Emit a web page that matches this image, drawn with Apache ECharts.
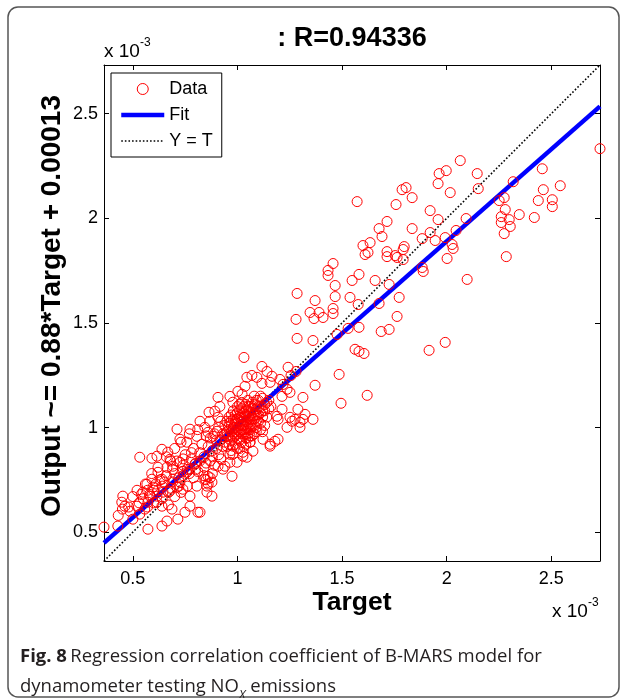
<!DOCTYPE html>
<html>
<head>
<meta charset="utf-8">
<script src="https://cdn.jsdelivr.net/npm/echarts@6/dist/echarts.min.js"></script>
<style>html,body{margin:0;padding:0;background:#fff;}#chart{width:626px;height:698px;}</style>
</head>
<body>
<div id="chart"></div>
<script>
// All values in units of 1e-3
var axisMin = 0.362;
var axisMax = 2.733;
var tickValues = [0.5, 1, 1.5, 2, 2.5];
var tickLabels = ['0.5', '1', '1.5', '2', '2.5'];
var fitSlope = 0.88;
var fitIntercept = 0.13;
var titleText = ': R=0.94336';
var yLabelText = 'Output ~= 0.88*Target + 0.00013';
var xLabelText = 'Target';
var legendNames = ['Data', 'Fit', 'Y = T'];

// [target, output] pairs
var upperPoints = [[2.065,2.276],[1.998,2.228],[1.964,2.214],[1.959,2.166],[2.017,2.123],[2.146,2.214],[2.151,2.142],[1.572,2.080],[1.787,2.137],[1.806,2.147],[1.835,2.099],[1.758,2.066],[1.921,2.037],[1.959,1.994],[2.093,1.999],[1.715,1.985],[1.677,1.951],[1.691,1.913],[1.835,1.951],[1.921,1.932],[1.883,1.903],[1.945,1.894],[1.993,1.908],[2.045,1.942],[1.634,1.884],[1.600,1.870],[1.624,1.837],[1.610,1.827],[1.715,1.841],[1.715,1.817],[1.797,1.865],[1.792,1.851],[1.754,1.822],[1.792,1.803],[1.763,1.813],[2.026,1.875],[2.031,1.856],[2.002,1.808],[1.883,1.765],[1.888,1.746],[1.457,1.784],[1.433,1.751],[1.433,1.727],[1.581,1.732],[1.658,1.703],[1.548,1.703],[2.098,1.708]];
var rightPoints = [[2.733,2.333],[2.457,2.237],[2.543,2.156],[2.462,2.137],[2.438,2.085],[2.505,2.089],[2.505,2.056],[2.419,2.004],[2.318,2.175],[2.275,2.099],[2.251,2.085],[2.280,2.042],[2.347,2.018],[2.261,2.008],[2.299,1.994],[2.261,1.980],[2.304,1.961],[2.275,1.927],[2.285,1.817]];
var midUpperPoints = [[1.467,1.679],[1.725,1.684],[1.285,1.641],[1.371,1.607],[1.467,1.626],[1.538,1.622],[1.577,1.588],[1.677,1.593],[1.773,1.622],[1.347,1.550],[1.390,1.550],[1.366,1.521],[1.409,1.526],[1.457,1.569],[1.457,1.545],[1.280,1.517],[1.763,1.531],[1.529,1.474],[1.581,1.479],[1.687,1.459],[1.725,1.469],[1.476,1.445],[1.285,1.426],[1.361,1.416],[1.562,1.374],[1.581,1.364],[1.605,1.354],[1.916,1.369],[1.993,1.407],[1.486,1.254],[1.371,1.202],[1.313,1.144],[1.620,1.154],[1.495,1.116]];
var midPoints = [[1.031,1.335],[1.117,1.292],[1.141,1.268],[1.242,1.288],[1.280,1.268],[1.256,1.249],[1.045,1.240],[1.069,1.249],[1.093,1.240],[1.117,1.211],[1.156,1.216],[1.165,1.245],[1.203,1.230],[1.218,1.206],[1.237,1.183],[1.251,1.168],[1.213,1.149],[1.289,1.087],[1.251,1.049],[1.275,1.039],[1.299,1.025],[1.323,1.063],[1.213,1.087],[1.189,1.054],[0.907,1.144],[0.916,1.101],[0.892,1.078],[0.864,1.073],[0.868,1.030],[1.002,1.173],[1.036,1.197],[1.022,1.159],[0.964,1.149],[0.978,1.121],[1.060,0.930],[1.122,0.944],[1.156,0.911],[1.179,0.934],[1.237,1.001],[1.261,1.030],[1.299,1.001],[1.313,1.039],[1.194,0.944],[1.026,0.882],[1.045,0.858],[0.978,0.872],[0.998,0.834],[0.974,0.767],[0.931,0.801],[0.907,0.815],[0.859,0.767],[0.844,0.753],[0.878,0.739],[0.854,0.720],[0.797,0.825],[0.773,0.801],[0.758,0.786],[0.859,0.977],[0.883,0.958],[0.902,0.982],[0.907,1.049],[0.821,1.030],[0.844,1.001],[0.773,0.992],[0.806,0.958],[0.711,0.992],[0.725,0.944],[0.758,0.930],[0.667,0.882],[0.639,0.896],[0.615,0.863],[0.591,0.853],[0.533,0.858],[0.677,0.848],[0.691,0.815],[0.663,0.810],[0.725,0.834],[0.739,0.791],[0.620,0.786],[0.639,0.753],[0.591,0.753],[0.567,0.729],[0.596,0.715],[0.548,0.691],[0.581,0.672],[0.615,0.672],[0.644,0.691],[0.677,0.696],[0.711,0.715],[0.691,0.753],[0.725,0.739],[0.739,0.705],[0.773,0.672],[0.806,0.720],[0.773,0.624],[0.811,0.595],[0.749,0.595],[0.687,0.610],[0.715,0.562],[0.663,0.553],[0.639,0.529],[0.572,0.514],[0.519,0.624],[0.486,0.600],[0.452,0.672],[0.447,0.643],[0.462,0.624],[0.500,0.562],[0.533,0.586],[0.557,0.610],[0.362,0.524],[0.428,0.529],[0.572,0.643],[0.615,0.643],[0.639,0.624],[0.854,0.691],[0.878,0.672],[0.964,0.872],[0.978,0.911],[1.156,0.920],[1.361,1.039],[1.194,1.039],[0.821,0.595],[1.026,0.863],[1.074,0.887],[0.940,0.815],[0.964,0.834],[0.84,0.77],[0.87,0.76],[0.86,0.73],[0.85,0.75],[0.88,0.78]];
var clusterPoints = [[0.94,0.93],[0.95,0.96],[0.96,0.99],[0.97,0.94],[0.97,1.01],[0.98,0.97],[0.98,1.04],[0.99,0.92],[0.99,1.00],[1.00,0.95],[1.00,1.02],[1.00,1.07],[1.01,0.98],[1.01,1.05],[1.02,0.93],[1.02,1.01],[1.02,1.09],[1.03,0.97],[1.03,1.03],[1.04,1.00],[1.04,1.06],[1.04,1.11],[1.05,0.95],[1.05,1.02],[1.05,1.08],[1.06,0.99],[1.06,1.04],[1.07,1.01],[1.07,1.07],[1.07,1.12],[1.08,0.97],[1.08,1.04],[1.09,1.09],[1.09,1.00],[1.10,1.06],[1.10,1.13],[1.11,1.02],[1.12,1.08],[1.12,0.98],[1.13,1.11],[1.14,1.05],[0.93,0.97],[0.94,1.01],[0.95,0.91],[0.96,1.05],[0.97,0.89],[0.98,1.08],[0.99,0.96],[1.00,0.99],[1.01,0.90],[1.01,1.11],[1.02,0.97],[1.03,1.07],[1.03,0.91],[1.04,0.95],[1.05,1.13],[1.06,0.93],[1.06,1.10],[1.08,1.15],[1.09,1.03],[1.11,1.15],[1.13,1.01],[0.92,0.94],[0.91,1.00],[0.95,1.03],[0.99,1.03],[1.00,0.90],[1.02,1.05],[1.04,1.03],[1.06,1.01],[1.08,1.01],[1.10,1.10],[1.15,1.09],[1.12,1.14],[0.97,0.98],[1.03,0.99],[1.05,1.05],[1.07,0.96],[1.11,1.07],[0.96,0.92],[1.09,1.13],[1.14,1.12],[1.16,1.10],[1.01,1.01],[0.98,1.00],
  [0.95,0.98],[0.96,1.02],[0.97,1.06],[0.98,0.95],[0.99,1.06],[1.00,1.04],[1.00,0.97],[1.01,1.08],[1.01,0.94],[1.02,1.03],[1.02,0.99],[1.03,1.05],[1.03,1.10],[1.04,0.98],[1.04,1.08],[1.05,1.00],[1.05,1.10],[1.06,1.06],[1.06,0.96],[1.07,1.04],[1.07,1.09],[1.08,1.06],[1.08,1.11],[1.09,1.06],[1.10,1.03],[1.11,1.10],[1.12,1.05],[1.13,1.08],[1.03,1.01],[0.99,0.98],[0.96,0.96],[0.94,0.97],[1.04,0.92],[1.09,0.98],[1.15,1.13],[1.02,1.12],[0.97,1.03],[1.05,0.97],[1.11,0.99],[1.00,1.10]];
var lowerPoints = [[0.62,0.70],[0.65,0.74],[0.68,0.71],[0.70,0.78],[0.72,0.76],[0.74,0.82],[0.76,0.80],[0.78,0.85],[0.80,0.83],[0.82,0.88],[0.84,0.86],[0.86,0.91],[0.88,0.89],[0.90,0.94],[0.91,0.87],[0.87,0.95],[0.83,0.92],[0.79,0.90],[0.75,0.87],[0.71,0.84],[0.69,0.80],[0.66,0.77],[0.63,0.75],[0.60,0.70],[0.58,0.68],[0.55,0.66],[0.53,0.64],[0.57,0.62],[0.60,0.64],[0.64,0.66],[0.67,0.63],[0.70,0.67],[0.73,0.69],[0.76,0.72],[0.79,0.76],[0.81,0.79],[0.84,0.81],[0.87,0.84],[0.89,0.82],[0.92,0.85],[0.85,0.96],[0.81,0.99],[0.77,0.97],[0.73,0.93],[0.70,0.90],[0.66,0.86],[0.62,0.81],[0.59,0.78],[0.56,0.73],[0.52,0.70],[0.50,0.67],[0.48,0.62],[0.45,0.61],[0.43,0.58],
  [0.64,0.72],[0.67,0.69],[0.69,0.74],[0.72,0.72],[0.74,0.77],[0.77,0.78],[0.80,0.80],[0.82,0.84],[0.85,0.83],[0.88,0.86],[0.90,0.90],[0.93,0.91],[0.78,0.88],[0.74,0.85],[0.68,0.84],[0.61,0.73],[0.57,0.70],[0.54,0.68],[0.89,0.97],[0.92,1.03]];

var allPoints = [].concat(upperPoints, rightPoints, midUpperPoints, midPoints, clusterPoints, lowerPoints);
var fitLine = [[axisMin, fitSlope * axisMin + fitIntercept], [axisMax, fitSlope * axisMax + fitIntercept]];
var identityLine = [[axisMin, axisMin], [axisMax, axisMax]];

var FONT = '"Liberation Sans", Arial, Helvetica, sans-serif';
var CAPFONT = '"Open Sans", sans-serif';
var chart = echarts.init(document.getElementById('chart'), null, {renderer: 'canvas'});

function tickFormatter(v) { var i = tickValues.indexOf(v); return i >= 0 ? tickLabels[i] : ''; }

function makeAxis(position, showLabel, margin) {
  return {
    type: 'value', min: axisMin, max: axisMax, position: position,
    splitLine: {show: false},
    axisLine: {show: true, onZero: false, lineStyle: {color: '#000', width: 1}},
    axisTick: {show: true, inside: true, length: 5, customValues: tickValues, lineStyle: {color: '#000', width: 1}},
    axisLabel: {show: showLabel, customValues: tickValues, color: '#000', fontSize: 18, fontFamily: FONT, margin: margin, formatter: tickFormatter}
  };
}

var option = {
  animation: false,
  backgroundColor: '#fff',
  grid: {left: 104, right: 26, top: 65, bottom: 137, containLabel: false},
  xAxis: [makeAxis('bottom', true, 9), makeAxis('top', false, 8)],
  yAxis: [makeAxis('left', true, 6), makeAxis('right', false, 8)],
  legend: {
    left: 111, top: 73, orient: 'vertical',
    backgroundColor: '#fff', borderColor: '#000', borderWidth: 1,
    padding: [7, 9, 7, 8], itemGap: 8, itemWidth: 43, itemHeight: 11,
    textStyle: {color: '#000', fontSize: 18, fontFamily: FONT},
    data: [
      {name: legendNames[0], icon: 'circle', itemStyle: {color: 'rgba(0,0,0,0)', borderColor: '#ff0000', borderWidth: 1}},
      {name: legendNames[1], itemStyle: {color: 'rgba(0,0,0,0)', borderWidth: 0, opacity: 0},
        lineStyle: {color: '#0000ff', width: 4.5}},
      {name: legendNames[2], itemStyle: {color: 'rgba(0,0,0,0)', borderWidth: 0, opacity: 0},
        lineStyle: {color: '#000', width: 1.6, type: [1.6, 2]}}
    ]
  },
  series: [
    {
      name: legendNames[2], type: 'line', data: identityLine, symbol: 'none', showSymbol: false,
      itemStyle: {color: '#000'},
      lineStyle: {color: '#000', width: 1.6, type: [1.6, 2]}, z: 2
    },
    {
      name: legendNames[1], type: 'line', data: fitLine, symbol: 'none', showSymbol: false,
      itemStyle: {color: '#0000ff'},
      lineStyle: {color: '#0000ff', width: 4.5}, z: 3
    },
    {
      name: legendNames[0], type: 'scatter', data: allPoints, symbol: 'circle', symbolSize: 10,
      itemStyle: {color: 'rgba(0,0,0,0)', borderColor: '#ff0000', borderWidth: 1, opacity: 1}, z: 4,
      emphasis: {disabled: true}
    }
  ],
  graphic: [
    {type: 'rect', shape: {x: 8, y: 7, width: 611, height: 690, r: 10}, style: {fill: 'none', stroke: '#555', lineWidth: 1.5}, silent: true},
    {type: 'text', x: 352, y: 39, style: {text: titleText, font: 'bold 27px ' + FONT, fill: '#000', align: 'center', verticalAlign: 'middle'}},
    {type: 'text', x: 52, y: 306, rotation: Math.PI / 2, style: {text: yLabelText, font: 'bold 28px ' + FONT, fill: '#000', align: 'center', verticalAlign: 'middle'}},
    {type: 'text', x: 352, y: 603, style: {text: xLabelText, font: 'bold 26.5px ' + FONT, fill: '#000', align: 'center', verticalAlign: 'middle'}},
    {type: 'text', x: 104, y: 37, style: {text: '{m|x 10}{s|-3}', fill: '#000', align: 'left', verticalAlign: 'top',
      rich: {m: {fontSize: 19, fontFamily: FONT, lineHeight: 30, fill: '#000'}, s: {fontSize: 12, fontFamily: FONT, lineHeight: 12, verticalAlign: 'top', fill: '#000'}}}},
    {type: 'text', x: 552, y: 597, style: {text: '{m|x 10}{s|-3}', fill: '#000', align: 'left', verticalAlign: 'top',
      rich: {m: {fontSize: 19, fontFamily: FONT, lineHeight: 30, fill: '#000'}, s: {fontSize: 12, fontFamily: FONT, lineHeight: 12, verticalAlign: 'top', fill: '#000'}}}},
    {type: 'text', x: 20, y: 642, style: {
      text: '{b|Fig. 8} {n|Regression correlation coefficient of B-MARS model for}\n{n|dynamometer testing NO}{sub|X}{n| emissions}',
      fill: '#231f20', align: 'left', verticalAlign: 'top',
      rich: {
        b: {fontSize: 18.5, fontWeight: 'bold', fontFamily: CAPFONT, lineHeight: 30, fill: '#231f20'},
        n: {fontSize: 18.5, fontFamily: CAPFONT, lineHeight: 30, fill: '#231f20'},
        sub: {fontSize: 12.5, fontStyle: 'italic', fontFamily: CAPFONT, lineHeight: 22, verticalAlign: 'bottom', fill: '#231f20'}
      }
    }}
  ]
};
chart.setOption(option);
</script>
</body>
</html>
